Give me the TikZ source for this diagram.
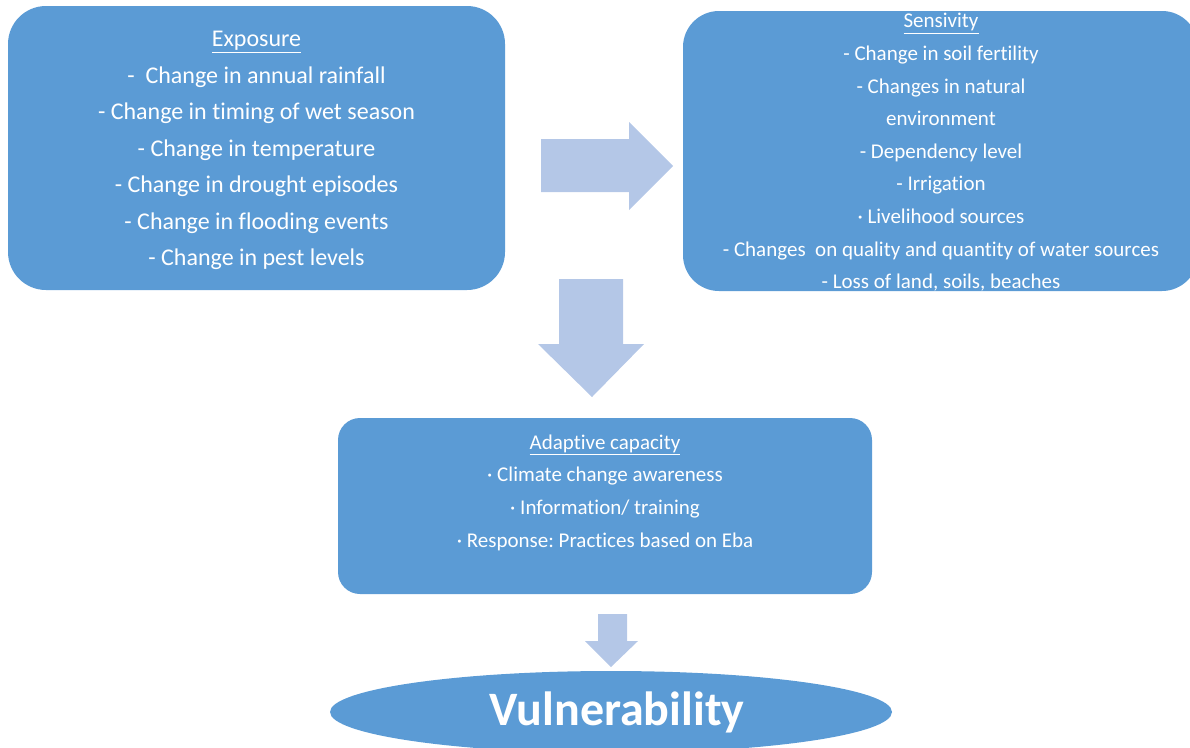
\documentclass[tikz,border=0pt]{standalone}
\usepackage{fontspec}
\setmainfont{Carlito}[Ligatures={NoCommon}]
\frenchspacing
\usetikzlibrary{shapes.geometric}
\definecolor{boxblue}{HTML}{5B9BD5}
\definecolor{arrowblue}{HTML}{B4C7E7}
\tikzset{
  bluebox/.style={rectangle, fill=boxblue, draw=none, inner sep=0pt},
  boxtext/.style={text=white, align=center, inner sep=0pt},
  blockarrow/.style={fill=arrowblue, draw=none}
}
\begin{document}
\begin{tikzpicture}[x=1pt,y=-1pt]
\clip (0,0) rectangle (1190,747);
\useasboundingbox (0,0) rectangle (1190,747);
% boxes
\node[bluebox, rounded corners=38pt, minimum width=497pt, minimum height=284pt] (expbox) at (256.5,148) {};
\node[bluebox, rounded corners=36pt, minimum width=515pt, minimum height=280pt] (senbox) at (940.5,151) {};
\node[bluebox, rounded corners=22pt, minimum width=534pt, minimum height=176pt] (adabox) at (605,506) {};
\node[ellipse, fill=boxblue, draw=none, inner sep=0pt, minimum width=562pt, minimum height=82pt] (vul) at (611,712) {};
% texts
\node[boxtext, font={\fontsize{24pt}{36.5pt}\selectfont}] (exptext) at (256.5,150.5) {%
\underline{Exposure}\\
-\ \ Change in annual rainfall\\
- Change in timing of wet season\\
- Change in temperature\\
- Change in drought episodes\\
- Change in flooding events\\
- Change in pest levels};
\node[boxtext, font={\fontsize{21pt}{32.6pt}\selectfont}] (sentext) at (941,152.5) {%
\underline{Sensivity}\\
- Change in soil fertility\\
- Changes in natural\\
environment\\
- Dependency level\\
- Irrigation\\
· Livelihood sources\\
- Changes\ \ on quality and quantity of water sources\\
- Loss of land, soils, beaches};
\node[boxtext, font={\fontsize{21pt}{32.7pt}\selectfont}] (adatext) at (605,492.5) {%
\underline{Adaptive capacity}\\
· Climate change awareness\\
· Information/ training\\
· Response: Practices based on Eba};
\node[text=white, inner sep=0pt, font={\fontsize{48pt}{56pt}\selectfont\bfseries}] (vultext) at (617,712) {Vulnerability};
% block arrows
\fill[blockarrow] (541,139) -- (629,139) -- (629,122) -- (673,166) -- (629,210) -- (629,192) -- (541,192) -- cycle;
\fill[blockarrow] (559,279) -- (623,279) -- (623,344) -- (644,344) -- (592,397) -- (538,344) -- (559,344) -- cycle;
\fill[blockarrow] (598,614) -- (627,614) -- (627,641) -- (638,641) -- (611,667) -- (585,641) -- (598,641) -- cycle;
\end{tikzpicture}
\end{document}
